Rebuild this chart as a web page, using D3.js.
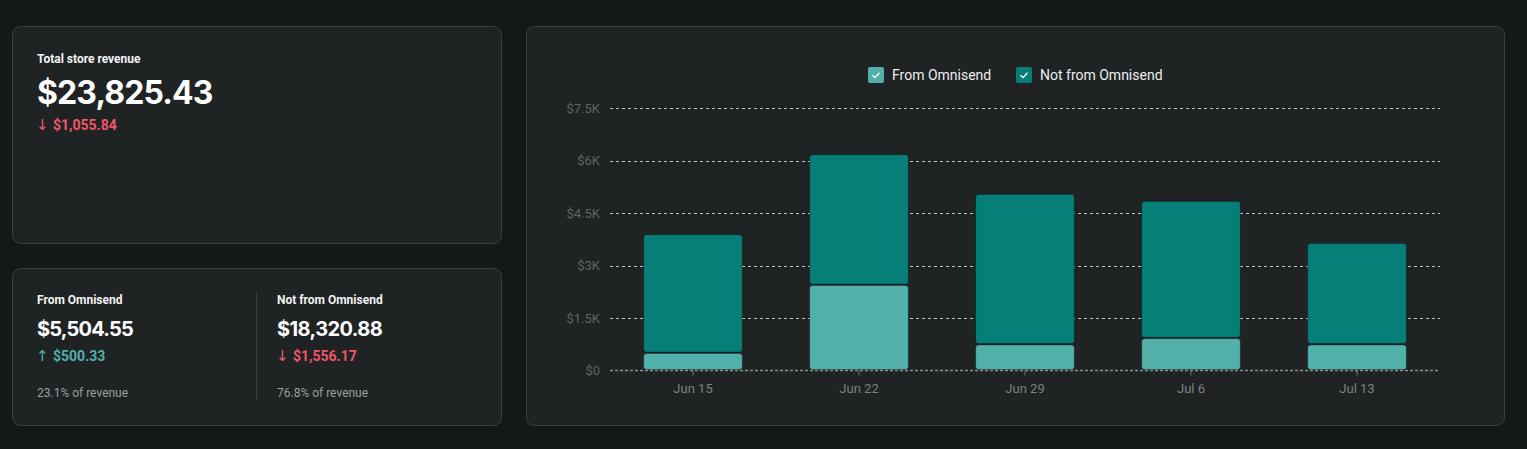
<!DOCTYPE html>
<html>
<head>
<meta charset="utf-8">
<script src="https://cdn.jsdelivr.net/npm/d3@7"></script>
<style>
  html, body { margin: 0; padding: 0; background: #141817; }
  svg { display: block; }
</style>
</head>
<body>
<svg id="page" width="1527" height="449"></svg>
<script>
// chart values
var weeks = ["Jun 15", "Jun 22", "Jun 29", "Jul 6", "Jul 13"];
var fromOmnisend = [500, 2440, 745, 925, 745];
var notFromOmnisend = [3390, 3740, 4300, 3920, 2895];
var yTicks = [0, 1500, 3000, 4500, 6000, 7500];
var yTickLabels = ["$0", "$1.5K", "$3K", "$4.5K", "$6K", "$7.5K"];
var seriesNames = ["From Omnisend", "Not from Omnisend"];

var lightTeal = "#52b0ab";
var darkTeal = "#067f79";
var cardColor = "#1f2324";
var cardBorder = "#3a3f40";
var red = "#f0566a";

var svg = d3.select("#page");

function drawCard(x, y, w, h) {
  return svg.append("rect").attr("x", x + 0.5).attr("y", y + 0.5)
    .attr("width", w).attr("height", h).attr("rx", 8)
    .attr("fill", cardColor).attr("stroke", cardBorder).attr("stroke-width", 1);
}

function drawText(str, x, y, size, color, weight, family) {
  return svg.append("text").attr("x", x).attr("y", y)
    .attr("font-size", size).attr("fill", color)
    .attr("font-weight", weight || 400)
    .attr("font-family", family || "Roboto, 'Noto Sans', sans-serif")
    .text(str);
}

// arrow + amount, like "↓ $1,055.84"
function drawChange(arrow, amount, x, y, color) {
  drawText(arrow, x - 1, y, 15, color, 400, "'DejaVu Sans', sans-serif");
  drawText(amount, x + 16, y, 14, color, 700);
}

// summary cards
drawCard(12, 26, 489, 217);
drawText("Total store revenue", 37, 63, 12, "#f2f2f2", 700);
drawText("$23,825.43", 37, 104, 32, "#ffffff", 700, "Inter, Roboto, sans-serif").attr("letter-spacing", -0.9);
drawChange("↓", "$1,055.84", 37, 130, red);

drawCard(12, 268, 489, 157);
drawText("From Omnisend", 37, 304, 12, "#f2f2f2", 700);
drawText("$5,504.55", 37, 336, 20, "#ffffff", 700, "Inter, Roboto, sans-serif").attr("letter-spacing", -0.8);
drawChange("↑", "$500.33", 37, 361, lightTeal);
drawText("23.1% of revenue", 37, 397, 12, "#9a9e9e", 400);
svg.append("line").attr("x1", 256.5).attr("x2", 256.5).attr("y1", 293).attr("y2", 401)
  .attr("stroke", "#3a3f40");
drawText("Not from Omnisend", 277, 304, 12, "#f2f2f2", 700);
drawText("$18,320.88", 277, 336, 20, "#ffffff", 700, "Inter, Roboto, sans-serif").attr("letter-spacing", -0.6);
drawChange("↓", "$1,556.17", 277, 361, red);
drawText("76.8% of revenue", 277, 397, 12, "#9a9e9e", 400);

// chart card
drawCard(526, 26, 978, 399);

var x = d3.scaleBand().domain(weeks).range([610, 1440]).paddingInner(0.4).paddingOuter(0.2);
var y = d3.scaleLinear().domain([0, 7500]).range([370.5, 108]);

var chart = svg.append("g");

// grid
chart.selectAll("line.grid").data(yTicks.slice(1)).enter().append("line")
  .attr("class", "grid")
  .attr("x1", 610).attr("x2", 1440)
  .attr("y1", function(d) { return Math.round(y(d)) + 0.5; })
  .attr("y2", function(d) { return Math.round(y(d)) + 0.5; })
  .attr("stroke", "#bfc3c3").attr("stroke-dasharray", "3,3");

// y axis labels
var yAxis = d3.axisLeft(y).tickValues(yTicks)
  .tickFormat(function(d, i) { return yTickLabels[i]; }).tickSize(0).tickPadding(10);
var yg = chart.append("g").attr("transform", "translate(610,0)").call(yAxis);
yg.select(".domain").remove();
yg.selectAll("text").attr("fill", "#5e6465").attr("font-size", 13)
  .attr("font-family", "Roboto, sans-serif");

// stacked bars
var stackData = weeks.map(function(w, i) {
  return { week: w, from: fromOmnisend[i], notFrom: notFromOmnisend[i] };
});
var stack = d3.stack().keys(["from", "notFrom"]);
var layers = stack(stackData);
var fills = [lightTeal, darkTeal];

chart.selectAll("g.layer").data(layers).enter().append("g")
  .attr("class", "layer")
  .attr("fill", function(d, i) { return fills[i]; })
  .selectAll("rect").data(function(d) { return d; }).enter().append("rect")
  .attr("x", function(d) { return x(d.data.week) + 0.5; })
  .attr("width", x.bandwidth() - 1)
  .attr("y", function(d) { return y(d[1]) + 0.5; })
  .attr("height", function(d) { return Math.max(0, y(d[0]) - y(d[1]) - 1.5); })
  .attr("rx", 3)
  .attr("stroke", "rgba(0,0,0,0.25)").attr("stroke-width", 1);

// x axis
var xAxis = d3.axisBottom(x).tickSize(5).tickPadding(8);
var xg = chart.append("g").attr("transform", "translate(0,370.5)").call(xAxis);
xg.select(".domain").remove();
xg.selectAll(".tick line").attr("stroke", "#6a7070");
xg.selectAll("text").attr("fill", "#7b8181").attr("font-size", 13)
  .attr("font-family", "Roboto, sans-serif");
chart.append("line").attr("x1", 610).attr("x2", 1440).attr("y1", 370.5).attr("y2", 370.5)
  .attr("stroke", "#8a8f8f").attr("stroke-width", 1.5).attr("stroke-dasharray", "3,2");

// legend
var legend = svg.append("g");
var legendX = [868, 1016];
seriesNames.forEach(function(name, i) {
  var g = legend.append("g").attr("transform", "translate(" + legendX[i] + ",67)");
  g.append("rect").attr("width", 16).attr("height", 16).attr("rx", 2).attr("fill", fills[i]);
  g.append("path").attr("d", "M4.5,8.2 L7,10.6 L11.5,5.8")
    .attr("fill", "none").attr("stroke", "#ffffff").attr("stroke-width", 1.3);
  g.append("text").attr("x", 24).attr("y", 13).attr("font-size", 14)
    .attr("fill", "#eeeeee").attr("font-family", "Roboto, sans-serif").text(name);
});
</script>
</body>
</html>
